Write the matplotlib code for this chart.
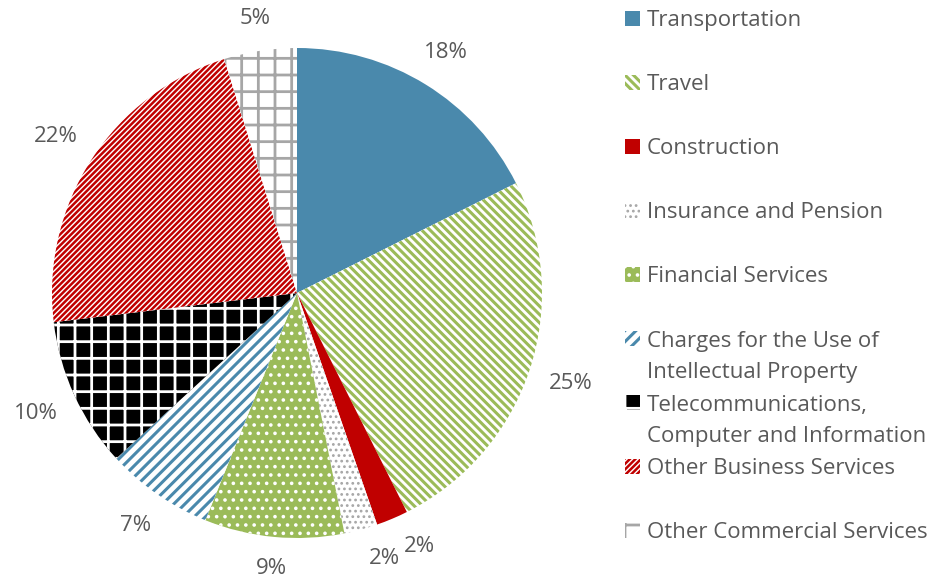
import numpy as np
import matplotlib.pyplot as plt
from matplotlib.patches import Rectangle

plt.rcParams['font.family'] = ['Open Sans', 'DejaVu Sans']
plt.rcParams['hatch.linewidth'] = 2.0

# data
labels = ['Transportation', 'Travel', 'Construction', 'Insurance and Pension',
          'Financial Services', 'Charges for the Use of\nIntellectual Property',
          'Telecommunications,\nComputer and Information', 'Other Business Services',
          'Other Commercial Services']
shares = [17.6, 25.0, 2.1, 2.2, 9.2, 7.1, 9.9, 22.1, 4.8]
pct_text = ['18%', '25%', '2%', '2%', '9%', '7%', '10%', '22%', '5%']

# style per slice: face, hatch colour, hatch, hatch linewidth
styles = [
    ('#4A89AC', '#4A89AC', None, 1.0),
    ('white', '#9BBB59', '\\\\\\\\', 2.2),
    ('#C00000', '#C00000', None, 1.0),
    ('white', '#A6A6A6', '...', 1.2),
    ('#9BBB59', 'white', '..', 1.4),
    ('white', '#4A89AC', '///', 2.2),
    ('black', 'white', '+', 2.0),
    ('white', '#C00000', '//////', 1.8),
    ('white', '#A6A6A6', '+', 2.0),
]
# label angle tweaks (deg) for the crowded small slices
angle_shift = [0, 0, 3, 3, 0, 0, 0, 0, 0]
text_col = '#595959'

fig = plt.figure(figsize=(9.35, 5.79), dpi=100)
W, H = 935, 579
cx, cy, r = 297, 293, 245
ax = fig.add_axes([(cx - r) / W, (H - cy - r) / H, 2 * r / W, 2 * r / H])

wedges, _ = ax.pie(shares, startangle=90, counterclock=False, radius=1,
                   wedgeprops=dict(linewidth=0))
for w, (fc, hc, hatch, hlw) in zip(wedges, styles):
    w.set_facecolor(fc)
    w.set_edgecolor(hc)
    w.set_linewidth(0)
    if hatch:
        w.set_hatch(hatch)
        if hasattr(w, 'set_hatch_linewidth'):
            w.set_hatch_linewidth(hlw)

# percentage labels outside
cum = np.cumsum([0] + shares)
tot = cum[-1]
for i, t in enumerate(pct_text):
    mid = np.radians(90 - 360 * (cum[i] + cum[i + 1]) / 2 / tot + angle_shift[i])
    d = 1.125 + 0.055 * abs(np.cos(mid))
    ax.text(d * np.cos(mid), d * np.sin(mid), t, ha='center', va='center',
            fontsize=16, color=text_col)
ax.set_xlim(-1, 1)
ax.set_ylim(-1, 1)
ax.set_aspect('equal')
ax.axis('off')

# legend drawn by hand: fixed 64 px slots, 32 px per text line
for i, (lab, (fc, hc, hatch, hlw)) in enumerate(zip(labels, styles)):
    yc = 18 + 64 * i
    rect = Rectangle((625 / W, 1 - (yc + 7.5) / H), 15 / W, 15 / H,
                     transform=fig.transFigure, facecolor=fc, edgecolor=hc,
                     linewidth=0, hatch=hatch)
    if hatch and hasattr(rect, 'set_hatch_linewidth'):
        rect.set_hatch_linewidth(hlw)
    fig.add_artist(rect)
    base = yc + 8 + 32 * lab.count('\n')
    fig.text(647 / W, 1 - base / H, lab, ha='left', va='baseline', fontsize=16,
             color=text_col, linespacing=1.62)

fig.savefig('out.png', dpi=100)
